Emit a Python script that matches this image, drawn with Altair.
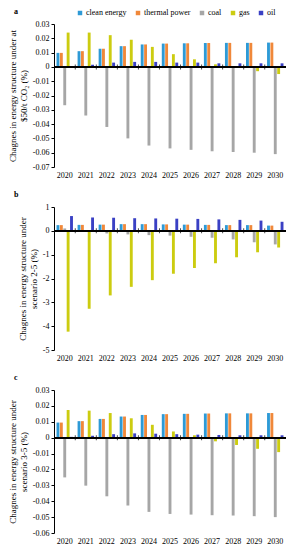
import altair as alt
import pandas as pd

years = ["2020", "2021", "2022", "2023", "2024", "2025", "2026", "2027", "2028", "2029", "2030"]
series = ["clean energy", "thermal power", "coal", "gas", "oil"]
colors = ["#2E9AD6", "#F0883A", "#A6A6A6", "#CCCC10", "#3A40C4"]

# panel a: $50/t CO2
clean_a = [0.0098, 0.011, 0.0127, 0.0145, 0.0157, 0.0163, 0.0165, 0.0167, 0.0168, 0.0168, 0.017]
thermal_a = [0.0098, 0.011, 0.0127, 0.0145, 0.0157, 0.0163, 0.0165, 0.0167, 0.0168, 0.0168, 0.017]
coal_a = [-0.0268, -0.034, -0.042, -0.050, -0.055, -0.057, -0.058, -0.059, -0.0595, -0.060, -0.061]
gas_a = [0.024, 0.024, 0.0222, 0.019, 0.014, 0.0089, 0.0053, 0.0018, 0.0004, -0.003, -0.005]
oil_a = [0.0005, 0.0015, 0.003, 0.0035, 0.0035, 0.003, 0.003, 0.0025, 0.0025, 0.0025, 0.0025]

# panel b: scenario 2-5
clean_b = [0.24, 0.25, 0.26, 0.28, 0.28, 0.27, 0.26, 0.25, 0.24, 0.24, 0.22]
thermal_b = [0.24, 0.25, 0.26, 0.28, 0.28, 0.27, 0.26, 0.25, 0.24, 0.24, 0.22]
coal_b = [0.1, -0.02, -0.11, -0.15, -0.18, -0.2, -0.25, -0.29, -0.36, -0.48, -0.57]
gas_b = [-4.23, -3.27, -2.71, -2.35, -2.07, -1.8, -1.56, -1.36, -1.11, -0.9, -0.7]
oil_b = [0.62, 0.56, 0.55, 0.53, 0.52, 0.51, 0.5, 0.48, 0.46, 0.43, 0.38]

# panel c: scenario 3-5
clean_c = [0.0095, 0.0104, 0.0118, 0.0133, 0.0143, 0.0148, 0.015, 0.0152, 0.0153, 0.0153, 0.0155]
thermal_c = [0.0095, 0.0104, 0.0118, 0.0133, 0.0143, 0.0148, 0.015, 0.0152, 0.0153, 0.0153, 0.0155]
coal_c = [-0.025, -0.0302, -0.0369, -0.0427, -0.0467, -0.048, -0.0484, -0.0488, -0.049, -0.0494, -0.05]
gas_c = [0.0174, 0.017, 0.0155, 0.0122, 0.0081, 0.0039, 0.0015, -0.0023, -0.0046, -0.007, -0.0091]
oil_c = [0.0005, 0.0012, 0.0022, 0.0027, 0.0025, 0.0022, 0.0019, 0.0017, 0.0015, 0.0015, 0.0015]

FONT = "Liberation Serif"
W, H = 232, 143
PAD_IN = 0.22
PAD_OUT = 0.12


def make_df(cols):
    rows = []
    for s, vals in zip(series, cols):
        for y, v in zip(years, vals):
            rows.append({"year": y, "series": s, "value": v})
    return pd.DataFrame(rows)


def panel(df, letter, title_lines, lo, hi, step, fmt_digits):
    n = int(round((hi - lo) / step))
    ticks = [round(lo + i * step, 4) for i in range(n + 1)]
    if fmt_digits == 0:
        lab = "datum.value == 0 ? '0' : (datum.value < 0 ? '-' : '') + format(abs(datum.value), 'd')"
    else:
        lab = "datum.value == 0 ? '0' : (datum.value < 0 ? '-' : '') + format(abs(datum.value), '.%df')" % fmt_digits
    xscale = alt.Scale(paddingInner=PAD_IN, paddingOuter=PAD_OUT)
    yscale = alt.Scale(domain=[lo, hi], nice=False, zero=False)
    bars = alt.Chart(df).mark_bar().encode(
        x=alt.X("year:N", sort=years, scale=xscale,
                axis=alt.Axis(title=None, domain=False, ticks=False, labelAngle=0, orient="bottom",
                              labelFont=FONT, labelFontSize=8, labelColor="black", labelPadding=4)),
        xOffset=alt.XOffset("series:N", sort=series, scale=alt.Scale(paddingInner=0.15)),
        y=alt.Y("value:Q", scale=yscale,
                axis=alt.Axis(values=ticks, labelExpr=lab, grid=False, title=title_lines,
                              labelFont=FONT, labelFontSize=8, labelColor="black",
                              titleFont=FONT, titleFontSize=9, titleFontWeight="normal",
                              titleColor="black", domainColor="black", tickColor="black",
                              tickSize=3, titlePadding=4, labelPadding=2)),
        color=alt.Color("series:N", sort=series,
                        scale=alt.Scale(domain=series, range=colors),
                        legend=alt.Legend(title=None, orient="none", legendX=22, legendY=-15,
                                          direction="horizontal", symbolType="square",
                                          symbolSize=20, symbolStrokeWidth=0,
                                          labelFont=FONT, labelFontSize=8, labelColor="black",
                                          columnPadding=7, symbolOffset=0, labelOffset=2)),
    )
    zero_line = alt.Chart(df).mark_rule(color="black", strokeWidth=1).encode(
        y=alt.datum(0, scale=yscale, axis=None),
    )
    stepw = W / (len(years) - PAD_IN + 2 * PAD_OUT)
    shift = -(PAD_IN * stepw / 2)
    tick_df = pd.DataFrame({"year": years[1:]})
    zero_ticks = alt.Chart(tick_df).mark_tick(color="black", orient="vertical", size=5,
                                              thickness=1, xOffset=shift).encode(
        x=alt.X("year:N", sort=years, scale=xscale, axis=None, bandPosition=0),
        y=alt.datum(0, scale=yscale, axis=None),
    )
    return alt.layer(bars, zero_line, zero_ticks).resolve_axis(x="independent", y="independent").properties(
        width=W, height=H,
        title=alt.Title(letter, anchor="start", frame="group", font=FONT, fontSize=8,
                        fontWeight="bold", color="black", dx=-40, offset=4),
    )


pa = panel(make_df([clean_a, thermal_a, coal_a, gas_a, oil_a]), "a",
           ["Chagnes in energy structure under at", "$50/t CO\u2082 (%)"], -0.07, 0.03, 0.01, 2)
pb = panel(make_df([clean_b, thermal_b, coal_b, gas_b, oil_b]), "b",
           ["Chagnes in energy structure under", "scenario 2-5 (%)"], -5, 1, 1, 0)
pc = panel(make_df([clean_c, thermal_c, coal_c, gas_c, oil_c]), "c",
           ["Chagnes in energy structure under", "scenario 3-5 (%)"], -0.06, 0.03, 0.01, 2)

chart = alt.vconcat(pa, pb, pc, spacing=40, bounds="flush").properties(padding=0).configure_view(stroke=None)

chart.save("out.html", embed_options={"renderer": "svg", "actions": False})
